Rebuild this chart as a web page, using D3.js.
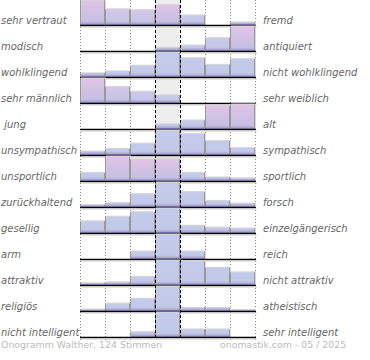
<!DOCTYPE html>
<html><head><meta charset="utf-8">
<script src="https://cdn.jsdelivr.net/npm/d3@7/dist/d3.min.js"></script>
<style>body{margin:0;background:#fff}svg{display:block}</style>
</head><body>
<script>
const leftLabels = ["sehr vertraut","modisch","wohlklingend","sehr männlich"," jung","unsympathisch","unsportlich","zurückhaltend","gesellig","arm","attraktiv","religiös","nicht intelligent"];
const rightLabels = ["fremd","antiquiert","nicht wohlklingend","sehr weiblich","alt","sympathisch","sportlich","forsch","einzelgängerisch","reich","nicht attraktiv","atheistisch","sehr intelligent"];
const scaleSteps = [1,2,3,4,5,6,7];
// percentage of votes per step, one array per row
const vertraut     = [28,18,17,23,11,0,3];
const modisch      = [0,0,0,7,12,28,53];
const wohlklingend = [4,6,12,26,20,13,19];
const maennlich    = [41,27,19,13,0,0,0];
const jung         = [0,0,0,8,14,38,40];
const sympathisch  = [4,7,13,28,24,16,8];
const sportlich    = [9,27,24,24,9,4,3];
const forsch       = [3,6,19,36,22,9,5];
const gesellig     = [13,18,23,27,8,6,5];
const reich        = [0,0,19,62,19,0,0];
const attraktiv    = [2,3,9,27,26,19,14];
const religioes    = [3,14,23,46,6,6,2];
const intelligent  = [0,0,11,55,17,17,0];
const rows = [vertraut,modisch,wohlklingend,maennlich,jung,sympathisch,sportlich,forsch,gesellig,reich,attraktiv,religioes,intelligent];
// pink tint of each bar (0 = blue, 1 = pink)
const tintVertraut  = [1,0.5,0.5,1,0.2,0,1];
const tintModisch   = [0,0,0,0,0,0.2,1];
const tintMaennlich = [1,0.6,0.3,0.1,0,0,0];
const tintJung      = [0,0,0,0,0.1,1,1];
const tintSportlich = [0,1,1,1,0,0,0];
const tintNone      = [0,0,0,0,0,0,0];
const tints = [tintVertraut,tintModisch,tintNone,tintMaennlich,tintJung,tintNone,tintSportlich,tintNone,tintNone,tintNone,tintNone,tintNone,tintNone];
const footerLeft = "Onogramm Walther, 124 Stimmen";
const footerRight = "onomastik.com - 05 / 2025";

(function () {
const W = 370, H = 360;
const svg = d3.select("body").append("svg").attr("width", W).attr("height", H);
svg.append("rect").attr("width", W).attr("height", H).attr("fill", "#fff");

const x = d3.scaleBand().domain(scaleSteps).range([80, 255]).paddingInner(0).paddingOuter(0);
const yBase = d3.scalePoint().domain(d3.range(rows.length)).range([25, 337]);
const barMax = 24.5;

const defs = svg.append("defs");
const tintColor = d3.interpolateRgb("#c4cbea", "#e0c4e6");
const gradId = t => "g" + Math.round(t * 10);
d3.range(0, 11).forEach(k => {
  const t = k / 10;
  const g = defs.append("linearGradient").attr("id", gradId(t)).attr("x1", 0).attr("y1", 0).attr("x2", 0).attr("y2", 1);
  g.append("stop").attr("offset", "0%").attr("stop-color", tintColor(t));
  g.append("stop").attr("offset", "100%").attr("stop-color", d3.interpolateRgb("#c2c8e8", "#c0bfe2")(t));
});
const band = defs.append("linearGradient").attr("id", "band").attr("x1", 0).attr("y1", 0).attr("x2", 0).attr("y2", 1);
band.append("stop").attr("offset", "0%").attr("stop-color", "#b0a8d8").attr("stop-opacity", 0.2);
band.append("stop").attr("offset", "100%").attr("stop-color", "#9088c0").attr("stop-opacity", 1);

const x0 = x.range()[0], x1 = x.range()[1];
const cx0 = x(4), cx1 = x(4) + x.bandwidth();
const yEnd = yBase(rows.length - 1) + 2;

// neutral column background
svg.append("rect").attr("x", cx0).attr("y", 0).attr("width", x.bandwidth()).attr("height", yBase(rows.length - 1)).attr("fill", "#eeeeee");

// dotted grid lines
const gridX = [x0, x(2), x(3), x(6), x(7), x1];
svg.append("g").selectAll("line").data(gridX).join("line")
  .attr("x1", d => d + 0.5).attr("x2", d => d + 0.5).attr("y1", 0).attr("y2", yEnd + 1)
  .attr("stroke", "#888").attr("stroke-width", 1).attr("stroke-dasharray", "1,2");

// bars
rows.forEach((vals, r) => {
  const base = yBase(r);
  const h = d3.scaleLinear().domain([0, d3.max(vals)]).range([0, barMax]);
  const g = svg.append("g");
  const data = vals.map((v, i) => ({ v, i, s: scaleSteps[i], t: tints[r][i] })).filter(d => d.v > 0);
  g.selectAll("rect.sh").data(data).join("rect").attr("class", "sh")
    .attr("x", d => x(d.s) + 1).attr("y", d => base - h(d.v) - 1)
    .attr("width", x.bandwidth()).attr("height", d => h(d.v) + 1)
    .attr("fill", "#d8d8d8");
  g.selectAll("rect.b").data(data).join("rect").attr("class", "b")
    .attr("x", d => x(d.s)).attr("y", d => base - h(d.v))
    .attr("width", x.bandwidth()).attr("height", d => h(d.v))
    .attr("fill", d => "url(#" + gradId(d.t) + ")");
  g.selectAll("rect.bd").data(data).join("rect").attr("class", "bd")
    .attr("x", d => x(d.s)).attr("y", d => base - Math.min(h(d.v), 3.5))
    .attr("width", x.bandwidth()).attr("height", d => Math.min(h(d.v), 3.5))
    .attr("fill", "url(#band)");
  g.selectAll("line.l").data(data).join("line").attr("class", "l")
    .attr("x1", d => x(d.s) + 0.5).attr("x2", d => x(d.s) + 0.5)
    .attr("y1", d => base - h(d.v)).attr("y2", base)
    .attr("stroke", "#999");
  g.selectAll("line.r").data(data).join("line").attr("class", "r")
    .attr("x1", d => x(d.s) + x.bandwidth() - 0.5).attr("x2", d => x(d.s) + x.bandwidth() - 0.5)
    .attr("y1", d => base - h(d.v)).attr("y2", base)
    .attr("stroke", "#999");
  svg.append("line").attr("x1", x0).attr("x2", x1 + 1).attr("y1", base + 0.5).attr("y2", base + 0.5)
    .attr("stroke", "#000").attr("stroke-width", 1.6);
  svg.append("line").attr("x1", x0 + 1).attr("x2", x1 + 2).attr("y1", base + 2).attr("y2", base + 2)
    .attr("stroke", "#ccc").attr("stroke-width", 1);
});

// dashed neutral lines
svg.append("g").selectAll("line").data([cx0, cx1]).join("line")
  .attr("x1", d => d + 0.5).attr("x2", d => d + 0.5).attr("y1", 0).attr("y2", yEnd + 1)
  .attr("stroke", "#000").attr("stroke-width", 1).attr("stroke-dasharray", "3,2");

// labels
const font = "'DejaVu Sans', Verdana, sans-serif";
svg.append("g").selectAll("text").data(leftLabels).join("text")
  .attr("x", 1).attr("y", (d, i) => yBase(i) - 1.5)
  .attr("font-family", font).attr("font-size", 10).attr("font-style", "italic")
  .attr("fill", "#666").style("white-space", "pre").text(d => d);
svg.append("g").selectAll("text").data(rightLabels).join("text")
  .attr("x", 263).attr("y", (d, i) => yBase(i) - 1.5)
  .attr("font-family", font).attr("font-size", 10).attr("font-style", "italic")
  .attr("fill", "#666").text(d => d);

svg.append("text").attr("x", 1).attr("y", 348).attr("font-family", font).attr("font-size", 9.4)
  .attr("fill", "#bbb").text(footerLeft);
svg.append("text").attr("x", 220).attr("y", 348).attr("font-family", font).attr("font-size", 9.4)
  .attr("fill", "#bbb").text(footerRight);
})();
</script>
</body></html>
